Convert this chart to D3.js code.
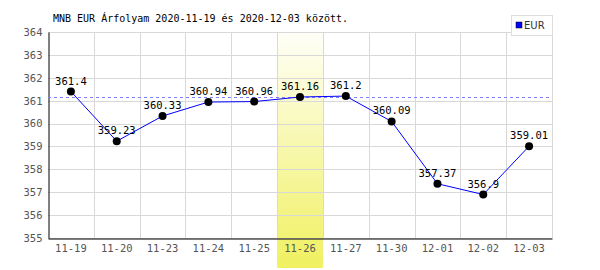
<!DOCTYPE html>
<html>
<head>
<meta charset="utf-8">
<script src="https://cdn.jsdelivr.net/npm/d3@7"></script>
<style>
  body { margin: 0; background: #fff; }
  text { font-family: "DejaVu Sans Mono", monospace; }
</style>
</head>
<body>
<div id="canvas"></div>
<script>
var dates = ['11-19', '11-20', '11-23', '11-24', '11-25', '11-26', '11-27', '11-30', '12-01', '12-02', '12-03'];
var rates = [361.4, 359.23, 360.33, 360.94, 360.96, 361.16, 361.2, 360.09, 357.37, 356.9, 359.01];
var yTicks = [355, 356, 357, 358, 359, 360, 361, 362, 363, 364];
var highlightDate = '11-26';
var seriesName = 'EUR';
var title = 'MNB EUR Árfolyam 2020-11-19 és 2020-12-03 között.';

var width = 600, height = 270;
var plotLeft = 48, plotRight = 552, plotTop = 32, plotBottom = 238;

var svg = d3.select('#canvas').append('svg')
  .attr('width', width)
  .attr('height', height);

var x = d3.scaleBand().domain(dates).range([plotLeft, plotRight]);
var y = d3.scaleLinear().domain([355, 364]).range([plotBottom, plotTop]);

var grad = svg.append('defs').append('linearGradient')
  .attr('id', 'hl').attr('x1', 0).attr('y1', 0).attr('x2', 0).attr('y2', 1);
grad.append('stop').attr('offset', '0%').attr('stop-color', '#fffff8');
grad.append('stop').attr('offset', '100%').attr('stop-color', '#f0f060');

// highlighted day
svg.append('rect')
  .attr('x', x(highlightDate))
  .attr('y', plotTop)
  .attr('width', x.bandwidth())
  .attr('height', 268 - plotTop)
  .attr('fill', 'url(#hl)');

// grid
svg.append('g').selectAll('line').data(yTicks).enter().append('line')
  .attr('x1', plotLeft).attr('x2', plotRight)
  .attr('y1', function(d) { return Math.round(y(d)) + 0.5; })
  .attr('y2', function(d) { return Math.round(y(d)) + 0.5; })
  .attr('stroke', '#d8d8d8');

svg.append('g').selectAll('line').data(dates.slice(1).concat(['end'])).enter().append('line')
  .attr('x1', function(d) { return d === 'end' ? plotRight + 0.5 : Math.round(x(d)) + 0.5; })
  .attr('x2', function(d) { return d === 'end' ? plotRight + 0.5 : Math.round(x(d)) + 0.5; })
  .attr('y1', plotTop).attr('y2', plotBottom)
  .attr('stroke', '#d8d8d8');

// axes
var yAxis = svg.append('g')
  .attr('transform', 'translate(' + (plotLeft + 0.5) + ',0)')
  .call(d3.axisLeft(y).tickValues(yTicks).tickSize(0).tickPadding(6));
var xAxis = svg.append('g')
  .attr('transform', 'translate(0,' + (plotBottom + 0.5) + ')')
  .call(d3.axisBottom(x).tickSize(0).tickPadding(6));
[yAxis, xAxis].forEach(function(a) {
  a.select('.domain').attr('stroke', '#000');
  a.selectAll('text').attr('fill', '#555').style('font-size', '10.5px')
    .style('font-family', '"DejaVu Sans Mono", monospace');
});

// reference line at highlighted value
var hv = rates[dates.indexOf(highlightDate)];
svg.append('line')
  .attr('x1', plotLeft).attr('x2', plotRight)
  .attr('y1', Math.round(y(hv)) + 0.5).attr('y2', Math.round(y(hv)) + 0.5)
  .attr('stroke', '#8080ff')
  .attr('stroke-dasharray', '3,3');

var data = dates.map(function(d, i) { return { date: d, value: rates[i] }; });
var cx = function(d) { return x(d.date) + x.bandwidth() / 2; };

svg.append('path')
  .datum(data)
  .attr('fill', 'none')
  .attr('stroke', '#0000ff')
  .attr('stroke-width', 1)
  .attr('d', d3.line().x(cx).y(function(d) { return y(d.value); }));

svg.selectAll('circle').data(data).enter().append('circle')
  .attr('cx', cx)
  .attr('cy', function(d) { return y(d.value); })
  .attr('r', 4)
  .attr('fill', '#000');

svg.selectAll('text.val').data(data).enter().append('text')
  .attr('class', 'val')
  .attr('x', cx)
  .attr('y', function(d) { return y(d.value) - 7; })
  .attr('text-anchor', 'middle')
  .style('font-size', '10.5px')
  .text(function(d) { return d.value; });

// title
svg.append('text')
  .attr('x', 53).attr('y', 22)
  .style('font-size', '10px')
  .text(title);

// legend
var lg = svg.append('g').attr('transform', 'translate(511,15)');
lg.append('rect').attr('x', 0.5).attr('y', 0.5).attr('width', 41).attr('height', 20)
  .attr('fill', '#fff').attr('stroke', '#ddd');
lg.append('rect').attr('x', 5).attr('y', 7).attr('width', 6).attr('height', 6)
  .attr('fill', '#0000ff').attr('stroke', '#000').attr('stroke-width', 0.5);
lg.append('text').attr('x', 13).attr('y', 14)
  .style('font-family', '"DejaVu Sans", sans-serif')
  .style('font-size', '10px').attr('fill', '#333')
  .text(seriesName);
</script>
</body>
</html>
